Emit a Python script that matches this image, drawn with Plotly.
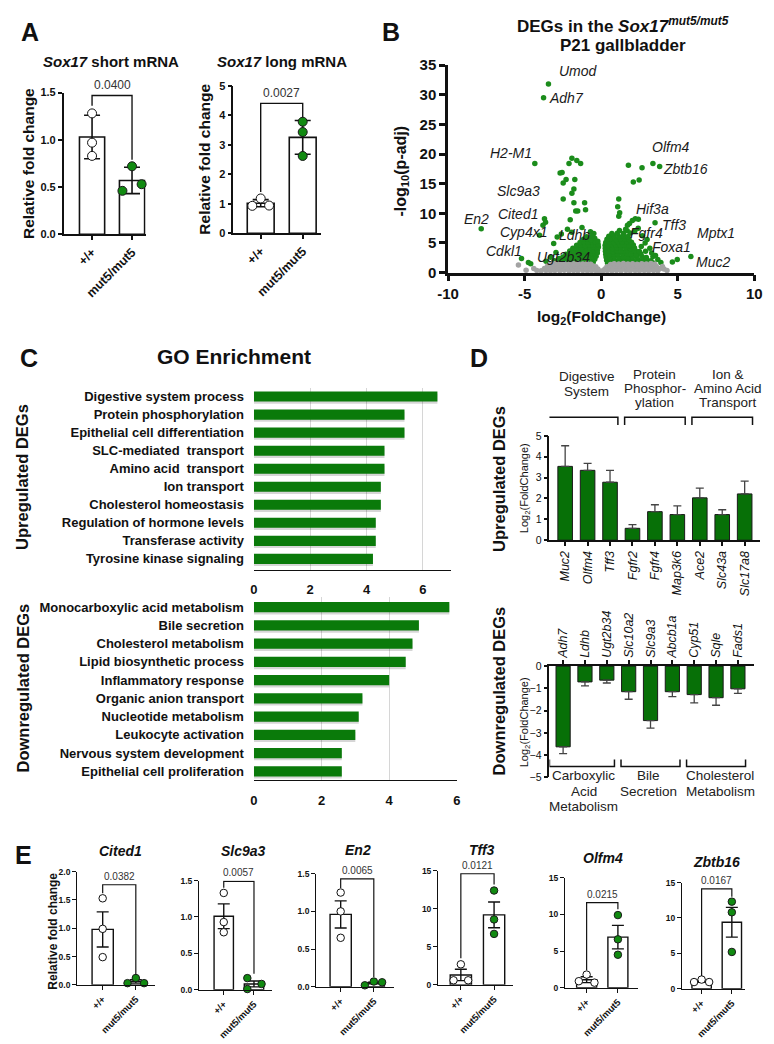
import plotly.graph_objects as go

# ============================ DATA ============================
GROUPS = ["+/+", "mut5/mut5"]

# Panel A - Sox17 qPCR (bar = mean, error = SD, dots = animals)
A_SHORT_MEAN = [1.03, 0.57]
A_SHORT_SD = [0.23, 0.14]
A_SHORT_WT = [1.28, 0.97, 0.83]
A_SHORT_MUT = [0.72, 0.46, 0.53]
A_SHORT_P = "0.0400"
A_SHORT_BRACKET = [1.36, 1.47, 0.79]      # left foot, top, right foot

A_LONG_MEAN = [1.02, 3.25]
A_LONG_SD = [0.12, 0.57]
A_LONG_WT = [1.18, 0.93, 0.94]
A_LONG_MUT = [3.78, 3.43, 2.62]
A_LONG_P = "0.0027"
A_LONG_BRACKET = [1.40, 4.40, 3.92]

# Panel B - volcano plot (log2 fold change, -log10 p-adj)
VOLC_DOWN_X = [
    -3.44, -3.76, -4.33, -7.83, -3.70, -3.63, -3.80, -4.02, -5.20, -4.75, -4.60,
    -1.91, -1.59, -1.34, -2.10, -2.68, -2.55, -2.29, -1.72, -2.48, -1.78, -1.91,
    -2.48, -1.78, -1.66, -1.53, -1.02, -1.08,
    -2.87, -2.60, -3.10, -2.95, -3.30, -3.05, -3.60, -2.75, -2.20, -1.92, -1.25,
    -0.70, -0.48, -2.02,
    -2.85, -2.52, -2.21, -1.93, -1.62, -1.34, -1.05, -0.78, -0.52,
    -2.66, -2.36, -2.08, -1.80, -1.49, -1.21, -0.92, -0.66, -0.42,
    -2.50, -2.22, -1.92, -1.64, -1.36, -1.08, -0.80, -0.55, -0.33,
    -2.30, -2.00, -1.72, -1.44, -1.15, -0.88, -0.62, -0.38, -0.25,
    -2.05, -1.78, -1.50, -1.22, -0.96, -0.70, -0.46, -0.24,
    -1.85, -1.56, -1.28, -1.00, -0.74, -0.50, -0.28, -0.18,
    -1.60, -1.32, -1.05, -0.80, -0.55, -0.32, -0.20,
    -1.38, -1.12, -0.86, -0.60, -0.38, -0.22,
    -1.15, -0.90, -0.65, -0.42,
    -0.95, -0.60,
]
VOLC_DOWN_Y = [
    31.8, 29.5, 18.4, 7.4, 9.1, 8.5, 8.0, 6.3, 2.4, 1.7, 1.5,
    19.3, 18.9, 18.4, 18.4, 16.8, 16.9, 15.7, 15.7, 15.1, 14.1, 13.4,
    12.4, 11.8, 10.4, 10.4, 10.6, 11.8,
    6.0, 6.5, 4.9, 3.4, 2.6, 2.0, 1.9, 2.4, 7.3, 6.8, 7.6,
    6.9, 6.6, 8.9,
    1.62, 1.74, 1.58, 1.68, 1.55, 1.71, 1.60, 1.66, 1.75,
    2.12, 2.05, 2.22, 2.08, 2.18, 2.02, 2.15, 2.10, 2.24,
    2.63, 2.71, 2.56, 2.68, 2.60, 2.72, 2.58, 2.66, 2.75,
    3.12, 3.05, 3.18, 3.08, 3.20, 3.10, 3.22, 3.14, 3.30,
    3.63, 3.58, 3.70, 3.60, 3.72, 3.62, 3.68, 3.80,
    4.12, 4.20, 4.08, 4.18, 4.10, 4.26, 4.15, 4.32,
    4.62, 4.70, 4.58, 4.72, 4.65, 4.60, 4.78,
    5.10, 5.22, 5.12, 5.25, 5.16, 5.30,
    5.65, 5.72, 5.60, 5.78,
    6.05, 6.12,
]
VOLC_UP_X = [
    3.38, 3.82, 1.78, 2.67, 2.10, 2.48, 1.15, 1.08, 1.21, 1.15, 2.23, 2.04, 2.43,
    1.72, 1.85, 2.42, 3.52, 3.18, 2.87, 3.38, 3.70, 4.65, 4.97, 5.86,
    2.20, 1.60, 2.70, 3.00, 2.62, 2.90, 3.30, 3.55, 3.90,
    0.42, 0.70, 1.00, 1.30, 1.60, 1.90, 2.20, 2.50, 2.80, 3.10, 3.40,
    0.36, 0.62, 0.90, 1.20, 1.50, 1.80, 2.10, 2.40, 2.70, 3.00, 3.25,
    0.32, 0.58, 0.86, 1.15, 1.45, 1.75, 2.05, 2.35, 2.68, 2.95,
    0.30, 0.55, 0.82, 1.10, 1.40, 1.70, 2.00, 2.30, 2.60,
    0.28, 0.52, 0.78, 1.05, 1.35, 1.65, 1.95, 2.25, 2.50,
    0.27, 0.50, 0.75, 1.02, 1.30, 1.60, 1.90, 2.18,
    0.26, 0.48, 0.72, 0.98, 1.26, 1.55, 1.85, 2.10,
    0.30, 0.55, 0.82, 1.10, 1.40, 1.70, 1.98,
    0.38, 0.65, 0.95, 1.25, 1.55, 1.82,
    0.50, 0.82, 1.15, 1.45, 1.75,
    0.70, 1.05, 1.45, 1.90,
    1.20, 1.70,
]
VOLC_UP_Y = [
    18.4, 17.9, 18.1, 17.7, 15.3, 15.6, 12.4, 11.1, 10.1, 9.5, 9.1, 8.8, 9.0,
    8.0, 8.3, 7.5, 8.4, 4.1, 5.0, 2.7, 2.2, 1.8, 2.2, 2.7,
    7.0, 7.3, 6.2, 5.6, 4.4, 3.6, 3.3, 2.9, 1.7,
    1.58, 1.66, 1.52, 1.70, 1.56, 1.68, 1.55, 1.72, 1.60, 1.67, 1.62,
    2.10, 2.18, 2.04, 2.16, 2.08, 2.20, 2.05, 2.15, 2.08, 2.12, 2.02,
    2.62, 2.56, 2.70, 2.60, 2.68, 2.58, 2.72, 2.62, 2.66, 2.55,
    3.12, 3.05, 3.18, 3.10, 3.20, 3.08, 3.16, 3.06, 3.14,
    3.60, 3.68, 3.58, 3.70, 3.62, 3.72, 3.60, 3.66, 3.58,
    4.10, 4.18, 4.06, 4.20, 4.12, 4.22, 4.08, 4.16,
    4.62, 4.56, 4.70, 4.60, 4.72, 4.64, 4.58, 4.68,
    5.10, 5.18, 5.08, 5.20, 5.12, 5.24, 5.14,
    5.62, 5.70, 5.60, 5.72, 5.64, 5.58,
    6.12, 6.20, 6.08, 6.16, 6.10,
    6.60, 6.65, 6.58, 6.70,
    7.10, 7.05,
]
VOLC_NS_X = [
    -3.92, -3.60, -3.31, -3.02, -2.70, -2.41, -2.10, -1.80, -1.52, -1.20, -0.90,
    -0.62, -0.33, -0.08, 0.12, 0.40, 0.70, 1.00, 1.30, 1.62, 1.90, 2.22, 2.50,
    2.81, 3.10, 3.42, 3.70,
    -3.70, -3.40, -3.10, -2.80, -2.52, -2.20, -1.90, -1.60, -1.30, -1.00, -0.70,
    -0.42, -0.22, 0.25, 0.50, 0.80, 1.10, 1.40, 1.70, 2.00, 2.30, 2.60, 2.90,
    3.20, 3.55, 3.85,
    -3.50, -3.20, -2.90, -2.60, -2.30, -2.00, -1.70, -1.40, -1.10, -0.80, -0.52,
    -0.35, 0.38, 0.60, 0.90, 1.20, 1.50, 1.80, 2.10, 2.40, 2.70, 3.00, 3.30, 3.60,
    -3.30, -3.00, -2.70, -2.40, -2.10, -1.80, -1.50, -1.20, -0.92, -0.68, 0.62,
    0.85, 1.15, 1.45, 1.75, 2.05, 2.35, 2.65, 2.95, 3.25, 3.50,
    -5.40, -4.90, -4.40, -4.20, 4.10, 4.00, 4.30,
]
VOLC_NS_Y = [
    0.32, 0.38, 0.30, 0.36, 0.32, 0.39, 0.30, 0.35, 0.32, 0.38, 0.30,
    0.36, 0.32, 0.28, 0.30, 0.36, 0.32, 0.38, 0.30, 0.35, 0.32, 0.38, 0.30,
    0.36, 0.32, 0.38, 0.30,
    0.70, 0.78, 0.72, 0.80, 0.70, 0.76, 0.70, 0.80, 0.72, 0.78, 0.70,
    0.76, 0.60, 0.62, 0.75, 0.70, 0.80, 0.72, 0.78, 0.70, 0.76, 0.70, 0.80,
    0.72, 0.76, 0.68,
    1.10, 1.16, 1.08, 1.14, 1.10, 1.16, 1.10, 1.16, 1.08, 1.14, 1.10,
    0.98, 1.00, 1.12, 1.16, 1.10, 1.14, 1.08, 1.16, 1.10, 1.14, 1.08, 1.16, 1.06,
    1.46, 1.52, 1.44, 1.50, 1.42, 1.48, 1.54, 1.44, 1.50, 1.40, 1.38,
    1.48, 1.44, 1.52, 1.44, 1.50, 1.42, 1.48, 1.46, 1.52, 1.40,
    1.30, 0.40, 0.70, 0.35, 0.60, 1.05, 0.35,
]
VOLC_LABELS = ["Umod", "Adh7", "H2-M1", "Olfm4", "Zbtb16", "Slc9a3", "Hif3a", "Cited1",
               "En2", "Tff3", "Cyp4x1", "Fgfr4", "Ldhb", "Mptx1", "Foxa1", "Cdkl1",
               "Ugt2b34", "Muc2"]

# Panel C - GO enrichment (-log10 p)
C_UP_TERMS = ["Digestive system process", "Protein phosphorylation",
              "Epithelial cell differentiation", "SLC-mediated  transport",
              "Amino acid  transport", "Ion transport", "Cholesterol homeostasis",
              "Regulation of hormone levels", "Transferase activity",
              "Tyrosine kinase signaling"]
C_UP_VALS = [6.52, 5.35, 5.35, 4.64, 4.64, 4.51, 4.51, 4.33, 4.33, 4.23]
C_DOWN_TERMS = ["Monocarboxylic acid metabolism", "Bile secretion",
                "Cholesterol metabolism", "Lipid biosynthetic process",
                "Inflammatory response", "Organic anion transport",
                "Nucleotide metabolism", "Leukocyte activation",
                "Nervous system development", "Epithelial cell proliferation"]
C_DOWN_VALS = [5.78, 4.88, 4.69, 4.49, 4.00, 3.21, 3.10, 3.00, 2.60, 2.60]

# Panel D - selected DEGs (log2 fold change, one-sided error)
D_UP_GENES = ["Muc2", "Olfm4", "Tff3", "Fgfr2", "Fgfr4", "Map3k6", "Ace2", "Slc43a", "Slc17a8"]
D_UP_VALS = [3.54, 3.35, 2.78, 0.57, 1.37, 1.23, 2.03, 1.23, 2.22]
D_UP_ERR = [0.99, 0.33, 0.57, 0.18, 0.33, 0.42, 0.47, 0.23, 0.61]
D_UP_GROUP_TEXT = [["Digestive", "System"], ["Protein", "Phosphor-", "ylation"],
                   ["Ion &amp;", "Amino Acid", "Transport"]]
D_UP_GROUP_IDX = [(0, 2), (3, 5), (6, 8)]
D_DOWN_GENES = ["Adh7", "Ldhb", "Ugt2b34", "Slc10a2", "Slc9a3", "Abcb1a", "Cyp51", "Sqle", "Fads1"]
D_DOWN_VALS = [-3.63, -0.71, -0.63, -1.15, -2.45, -1.15, -1.28, -1.42, -1.02]
D_DOWN_ERR = [0.31, 0.18, 0.13, 0.34, 0.34, 0.22, 0.37, 0.34, 0.21]
D_DOWN_GROUP_TEXT = [["Carboxylic", "Acid", "Metabolism"], ["Bile", "Secretion"],
                     ["Cholesterol", "Metabolism"]]
D_DOWN_GROUP_IDX = [(0, 2), (3, 5), (6, 8)]

# Panel E - qPCR validation (bar = mean, error = SEM)
E_GENES = ["Cited1", "Slc9a3", "En2", "Tff3", "Olfm4", "Zbtb16"]
E_MEAN = [[0.98, 0.06], [1.01, 0.08], [0.96, 0.05], [1.30, 9.20], [1.10, 6.90], [1.05, 9.40]]
E_SEM = [[0.31, 0.03], [0.17, 0.04], [0.18, 0.01], [0.75, 1.70], [0.40, 1.60], [0.15, 2.10]]
E_WT = [[1.53, 0.99, 0.49], [1.33, 0.93, 0.79], [1.25, 1.00, 0.65],
        [2.70, 0.60, 0.60], [1.80, 0.90, 0.70], [1.30, 0.95, 0.95]]
E_MUT = [[0.12, 0.03, 0.03], [0.16, 0.01, 0.08], [0.02, 0.07, 0.06],
         [12.4, 8.60, 6.70], [9.90, 6.60, 4.50], [12.3, 10.8, 5.20]]
E_P = ["0.0382", "0.0057", "0.0065", "0.0121", "0.0215", "0.0167"]
E_BRACKET = [[1.62, 1.77, 0.18], [1.40, 1.49, 0.22], [1.31, 1.43, 0.13],
             [3.50, 14.6, 13.2], [2.40, 11.6, 10.7], [1.80, 14.1, 13.0]]
E_YMAX = [2.0, 1.5, 1.5, 15, 15, 15]
E_YTICKS = [[0, 0.5, 1.0, 1.5, 2.0], [0, 0.5, 1.0, 1.5], [0, 0.5, 1.0, 1.5],
            [0, 5, 10, 15], [0, 5, 10, 15], [0, 5, 10, 15]]

# ============================ STYLE ============================
W, H = 774, 1044
FONT = "Arial, 'Liberation Sans', Helvetica, sans-serif"
BLACK = "#111111"
GREEN_BAR = "#0a7a0a"
GREEN_D = "#077007"
GREEN_DOT = "#118a11"
GREEN_V = "#1b8c1b"
GRAY_V = "#a3a3a3"

# dot horizontal dodge (x units) for each panel
JIT = {
    "a_short": ([0, 0, 0], [0, -0.24, 0.24]),
    "a_long": ([0, -0.2, 0.2], [0, 0, 0]),
    "e": [([0, 0, 0], [0, -0.25, 0.25]), ([0, 0, 0], [-0.22, -0.22, 0.25]),
          ([0, 0, 0], [-0.27, 0, 0.25]), ([0, -0.22, 0.22], [0, 0, 0]),
          ([0, -0.25, 0.25], [0, 0, 0]), ([0, -0.25, 0.25], [0, 0, 0])],
}
VOLC_LABEL_POS = {
    "Umod": (-1.46, 34.0), "Adh7": (-2.23, 29.5), "H2-M1": (-5.86, 20.1),
    "Olfm4": (4.59, 21.2), "Zbtb16": (5.54, 17.4), "Slc9a3": (-5.41, 13.8),
    "Hif3a": (3.38, 10.8), "Cited1": (-5.41, 9.95), "En2": (-8.15, 9.1),
    "Tff3": (4.78, 8.0), "Cyp4x1": (-5.10, 6.8), "Fgfr4": (2.99, 6.6),
    "Ldhb": (-1.72, 6.3), "Mptx1": (7.52, 6.6), "Foxa1": (4.59, 4.3),
    "Cdkl1": (-6.37, 3.65), "Ugt2b34": (-2.48, 2.65), "Muc2": (7.32, 1.8),
}
E_GEOM = [
    dict(xdom=(68, 148), ydom=(877, 992), xr=[-0.765, 1.59], title=(112, 856)),
    dict(xdom=(193, 268), ydom=(886, 997), xr=[-0.81, 1.61], title=(238, 856)),
    dict(xdom=(313, 393), ydom=(879, 994), xr=[-0.735, 1.62], title=(356, 855)),
    dict(xdom=(438, 515), ydom=(876, 992), xr=[-0.68, 1.58], title=(483, 855)),
    dict(xdom=(568, 643), ydom=(883, 995), xr=[-0.69, 1.65], title=(607, 863)),
    dict(xdom=(688, 752), ydom=(888, 996), xr=[-0.645, 1.42], title=(723, 867)),
]


def dom_x(a, b):
    return [a / W, b / W]


def dom_y(top, bottom):
    return [1 - bottom / H, 1 - top / H]


def names(n):
    s = "" if n == 1 else str(n)
    return "x" + s, "y" + s, "xaxis" + s, "yaxis" + s


fig = go.Figure()
ANN, SHAPES, AX = [], [], {}


def txt(text, x, y, size, bold=False, italic=False, angle=0, xanchor="center",
        yanchor="middle", color=BLACK, xref="paper", yref="paper"):
    if italic:
        text = "<i>" + text + "</i>"
    if bold:
        text = "<b>" + text + "</b>"
    ANN.append(dict(text=text, x=x / W if xref == "paper" else x,
                    y=1 - y / H if yref == "paper" else y, xref=xref, yref=yref,
                    showarrow=False, textangle=angle, xanchor=xanchor, yanchor=yanchor,
                    font=dict(family=FONT, size=size, color=color)))


def base_axis(**kw):
    d = dict(showgrid=False, zeroline=False, showline=True, linecolor=BLACK, linewidth=1.5,
             ticks="outside", tickcolor=BLACK, tickwidth=1.5, ticklen=4, fixedrange=True)
    d.update(kw)
    return d


def dot_panel(n, means, errs, wt, mut, jit, pval, bracket, xdom, ydom, xrange, ymax,
              yticks, yfmt, msize, bw, cap, xfs, yfs, pfs, lw):
    xr, yr, xk, yk = names(n)
    fig.add_trace(go.Bar(x=[0, 1], y=means, width=bw,
                         marker=dict(color="white", line=dict(color=BLACK, width=lw)),
                         error_y=dict(type="data", array=errs, color=BLACK, thickness=lw, width=cap),
                         xaxis=xr, yaxis=yr, hoverinfo="skip"))
    fig.add_trace(go.Scatter(x=[0 + j for j in jit[0]], y=wt, mode="markers", cliponaxis=False,
                             marker=dict(size=msize, color="white", line=dict(color=BLACK, width=1)),
                             xaxis=xr, yaxis=yr, hoverinfo="skip"))
    fig.add_trace(go.Scatter(x=[1 + j for j in jit[1]], y=mut, mode="markers", cliponaxis=False,
                             marker=dict(size=msize, color=GREEN_DOT, line=dict(color="#1a1a1a", width=1)),
                             xaxis=xr, yaxis=yr, hoverinfo="skip"))
    fig.add_trace(go.Scatter(x=[0, 0, 1, 1], y=[bracket[0], bracket[1], bracket[1], bracket[2]],
                             mode="lines", cliponaxis=False, line=dict(color=BLACK, width=lw * 0.85),
                             xaxis=xr, yaxis=yr, hoverinfo="skip"))
    ANN.append(dict(text=pval, x=0.5, y=bracket[1], xref=xr, yref=yr, showarrow=False,
                    yanchor="bottom", yshift=1, font=dict(family=FONT, size=pfs, color="#333")))
    AX[xk] = base_axis(domain=dom_x(*xdom), range=xrange, anchor=yr, tickvals=[0, 1],
                       ticktext=["<b>" + g + "</b>" for g in GROUPS], tickangle=-45,
                       linewidth=lw, tickwidth=lw, tickfont=dict(family=FONT, size=xfs, color=BLACK))
    AX[yk] = base_axis(domain=dom_y(*ydom), range=[0, ymax], anchor=xr, tickvals=yticks,
                       ticktext=["<b>" + yfmt.format(v) + "</b>" for v in yticks],
                       linewidth=lw, tickwidth=lw, tickfont=dict(family=FONT, size=yfs, color=BLACK))


# ---------------- Panel A ----------------
dot_panel(1, A_SHORT_MEAN, A_SHORT_SD, A_SHORT_WT, A_SHORT_MUT, JIT["a_short"], A_SHORT_P,
          A_SHORT_BRACKET, (54, 138), (85, 229), [-0.71, 1.34], 1.5, [0, 0.5, 1.0, 1.5], "{:.1f}",
          9, 0.63, 8, 12.5, 11, 12, 1.6)
dot_panel(2, A_LONG_MEAN, A_LONG_SD, A_LONG_WT, A_LONG_MUT, JIT["a_long"], A_LONG_P,
          A_LONG_BRACKET, (228, 318), (78, 228), [-0.65, 1.44], 5, [0, 1, 2, 3, 4, 5], "{:d}",
          9, 0.64, 8, 12.5, 11, 12, 1.6)
txt("A", 19, 23, 25, bold=True)
txt("<i>Sox17</i> short mRNA", 103, 53, 15, bold=True)
txt("<i>Sox17</i> long mRNA", 278, 53, 15, bold=True)
txt("Relative fold change", 18, 157, 15.5, bold=True, angle=-90)
txt("Relative fold change", 198, 153, 15.5, bold=True, angle=-90)

# ---------------- Panel B ----------------
fig.add_trace(go.Scatter(x=VOLC_DOWN_X + VOLC_UP_X, y=VOLC_DOWN_Y + VOLC_UP_Y, mode="markers",
                         cliponaxis=False, marker=dict(size=5.5, color=GREEN_V),
                         xaxis="x3", yaxis="y3", hoverinfo="skip"))
fig.add_trace(go.Scatter(x=VOLC_NS_X, y=VOLC_NS_Y, mode="markers", cliponaxis=False,
                         marker=dict(size=5.5, color=GRAY_V), xaxis="x3", yaxis="y3", hoverinfo="skip"))
AX["xaxis3"] = base_axis(domain=dom_x(448, 762), range=[-10, 10], anchor="y3",
                         tickvals=[-10, -5, 0, 5, 10], ticktext=["<b>%d</b>" % v for v in [-10, -5, 0, 5, 10]],
                         linewidth=2.5, tickwidth=2.5, ticklen=6,
                         tickfont=dict(family=FONT, size=15, color=BLACK))
AX["yaxis3"] = base_axis(domain=dom_y(57, 268), range=[0, 35], anchor="x3",
                         tickvals=list(range(0, 36, 5)), ticktext=["<b>%d</b>" % v for v in range(0, 36, 5)],
                         linewidth=2.5, tickwidth=2.5, ticklen=6,
                         tickfont=dict(family=FONT, size=15, color=BLACK))
for g in VOLC_LABELS:
    lx, ly = VOLC_LABEL_POS[g]
    txt(g, lx, ly, 14, italic=True, xref="x3", yref="y3", color="#1a1a1a")
txt("B", 390, 23, 25, bold=True)
txt("DEGs in the <i>Sox17</i><sup><i>mut5/mut5</i></sup>", 627, 16, 17, bold=True)
txt("P21 gallbladder", 627, 37, 17, bold=True)
txt("-log<sub>10</sub>(p-adj)", 400, 165, 16, bold=True, angle=-90)
txt("log<sub>2</sub>(FoldChange)", 605, 314, 15.5, bold=True)

# ---------------- Panel C ----------------
for vals, xr, yr in [(C_UP_VALS, "x4", "y4"), (C_DOWN_VALS, "x5", "y5")]:
    # soft drop shadow under each bar, then the bar itself
    fig.add_trace(go.Bar(orientation="h", x=vals, y=list(range(len(vals))), width=0.56,
                         offset=-0.16, marker=dict(color="rgba(0,0,0,0.16)", line=dict(width=0)),
                         xaxis=xr, yaxis=yr, hoverinfo="skip"))
    fig.add_trace(go.Bar(orientation="h", x=vals, y=list(range(len(vals))), width=0.56,
                         offset=-0.28, marker=dict(color=GREEN_BAR, line=dict(width=0)),
                         xaxis=xr, yaxis=yr, hoverinfo="skip"))
for xk, yk, xr, yr, xd, yd, rng, yrng, terms in [
        ("xaxis4", "yaxis4", "x4", "y4", (249, 451), (385, 570), [0, 7], [9.6, -0.49], C_UP_TERMS),
        ("xaxis5", "yaxis5", "x5", "y5", (249, 457), (598, 784), [0, 6], [9.49, -0.54], C_DOWN_TERMS)]:
    AX[xk] = base_axis(domain=dom_x(*xd), range=rng, anchor=yr, tickvals=[0, 2, 4, 6],
                       ticktext=["<b>%d</b>" % v for v in [0, 2, 4, 6]], ticks="", showgrid=True,
                       gridcolor="#d6d6d6", gridwidth=1, linewidth=1.3, ticklabelstandoff=8,
                       tickfont=dict(family=FONT, size=13, color=BLACK))
    AX[yk] = base_axis(domain=dom_y(*yd), range=yrng, anchor=xr, tickvals=list(range(len(terms))),
                       ticktext=["<b>" + t + "</b>" for t in terms], ticks="", showline=False,
                       ticklabelstandoff=9, tickfont=dict(family=FONT, size=13, color=BLACK))
txt("C", 18, 355, 25, bold=True)
txt("GO Enrichment", 229, 353, 21, bold=True)
txt("Upregulated DEGs", 12, 476, 16.5, bold=True, angle=-90)
txt("Downregulated DEGs", 12, 690, 16.5, bold=True, angle=-90)

# ---------------- Panel D ----------------
fig.add_trace(go.Bar(x=list(range(len(D_UP_VALS))), y=D_UP_VALS, width=0.65,
                     marker=dict(color=GREEN_D, line=dict(color="#1a1a1a", width=1)),
                     error_y=dict(type="data", symmetric=False, array=D_UP_ERR,
                                  arrayminus=[0] * len(D_UP_ERR), color="#444", thickness=1.3, width=4),
                     xaxis="x6", yaxis="y6", hoverinfo="skip"))
fig.add_trace(go.Bar(x=list(range(len(D_DOWN_VALS))), y=D_DOWN_VALS, width=0.65,
                     marker=dict(color=GREEN_D, line=dict(color="#1a1a1a", width=1)),
                     error_y=dict(type="data", symmetric=False, array=[0] * len(D_DOWN_ERR),
                                  arrayminus=D_DOWN_ERR, color="#444", thickness=1.3, width=4),
                     xaxis="x7", yaxis="y7", hoverinfo="skip"))
D_UP_XR = [-0.7, 8.69]
D_DN_XR = [-0.625, 8.75]
AX["xaxis6"] = base_axis(domain=dom_x(552, 768), range=D_UP_XR, anchor="y6",
                         tickvals=list(range(len(D_UP_GENES))), ticktext=["<i>" + g + "</i>" for g in D_UP_GENES],
                         tickangle=-90, tickfont=dict(family=FONT, size=12.5, color=BLACK))
AX["yaxis6"] = base_axis(domain=dom_y(434, 540), range=[0, 5], anchor="x6", tickvals=[0, 1, 2, 3, 4, 5],
                         tickfont=dict(family=FONT, size=10.5, color=BLACK))
AX["xaxis7"] = base_axis(domain=dom_x(552, 762), range=D_DN_XR, anchor="y7", side="top",
                         tickvals=list(range(len(D_DOWN_GENES))),
                         ticktext=["<i>" + g + "</i>" for g in D_DOWN_GENES],
                         tickangle=-90, tickfont=dict(family=FONT, size=12.5, color=BLACK))
AX["yaxis7"] = base_axis(domain=dom_y(668, 781), range=[-5, 0], anchor="x7",
                         tickvals=[-5, -4, -3, -2, -1, 0],
                         tickfont=dict(family=FONT, size=10.5, color=BLACK))


def bracket_path(x0, x1, y_bar, y_foot):
    return "M %f,%f L %f,%f L %f,%f L %f,%f" % (x0, 1 - y_foot / H, x0, 1 - y_bar / H,
                                                x1, 1 - y_bar / H, x1, 1 - y_foot / H)


for k, (a, b) in enumerate(D_UP_GROUP_IDX):
    x0 = a - 0.35 if k > 0 else D_UP_XR[0] - 0.25
    SHAPES.append(dict(type="path", xref="x6", yref="paper", path=bracket_path(x0, b + 0.35, 415, 423),
                       line=dict(color=BLACK, width=1.5)))
for k, (a, b) in enumerate(D_DOWN_GROUP_IDX):
    x0 = a - 0.35 if k > 0 else D_DN_XR[0]
    SHAPES.append(dict(type="path", xref="x7", yref="paper", path=bracket_path(x0, b + 0.35, 770, 763),
                       line=dict(color=BLACK, width=1.5)))

UP_HDR_X = [590, 660, 735]
for lines, cx in zip(D_UP_GROUP_TEXT, UP_HDR_X):
    ys = [374, 389] if len(lines) == 2 else [372, 386, 400]
    for t, yy in zip(lines, ys):
        txt(t, cx, yy, 13.5, color="#222")
DN_HDR_X = [587, 654, 727]
for lines, cx in zip(D_DOWN_GROUP_TEXT, DN_HDR_X):
    for t, yy in zip(lines, [779, 795, 811]):
        txt(t, cx, yy, 13.5, color="#222")
txt("D", 480, 355, 25, bold=True)
txt("Upregulated DEGs", 500, 478, 16.5, bold=True, angle=-90)
txt("Downregulated DEGs", 500, 693, 16.5, bold=True, angle=-90)
txt("Log<sub>2</sub>(FoldChange)", 527, 487, 11, angle=-90)
txt("Log<sub>2</sub>(FoldChange)", 527, 725, 11, angle=-90)

# ---------------- Panel E ----------------
for i, g in enumerate(E_GENES):
    geo = E_GEOM[i]
    fmt = "{:.1f}" if E_YMAX[i] < 5 else "{:.0f}"
    dot_panel(8 + i, E_MEAN[i], E_SEM[i], E_WT[i], E_MUT[i], JIT["e"][i], E_P[i], E_BRACKET[i],
              geo["xdom"], geo["ydom"], geo["xr"], E_YMAX[i], E_YTICKS[i], fmt,
              7.5, 0.64, 6, 9.5, 8.5, 10, 1.4)
    txt(g, geo["title"][0], geo["title"][1], 14, bold=True, italic=True)
txt("E", 13, 860, 25, bold=True)
txt("Relative fold change", 43, 937, 12, bold=True, angle=-90)

fig.update_layout(width=W, height=H, margin=dict(l=0, r=0, t=0, b=0),
                  paper_bgcolor="white", plot_bgcolor="rgba(0,0,0,0)", showlegend=False,
                  font=dict(family=FONT, color=BLACK), barmode="overlay",
                  annotations=ANN, shapes=SHAPES, **AX)
fig.write_html("out.html")
